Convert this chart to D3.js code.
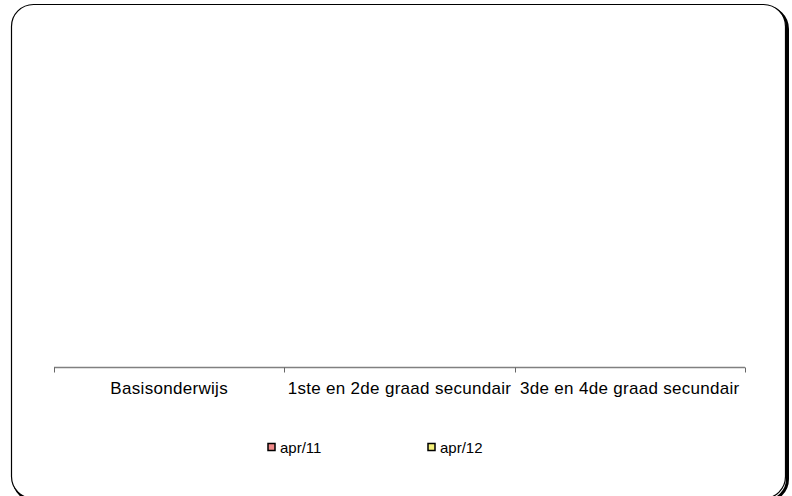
<!DOCTYPE html>
<html><head><meta charset="utf-8">
<script src="https://cdn.jsdelivr.net/npm/d3@7"></script>
<style>html,body{margin:0;padding:0;background:#fff;}svg{display:block;font-family:"Liberation Sans",Arial,sans-serif;}</style>
</head><body><div id="chart"></div>
<script>
const categories = ["Basisonderwijs", "1ste en 2de graad secundair", "3de en 4de graad secundair"];
const seriesNames = ["apr/11", "apr/12"];
const apr11 = [0, 0, 0];
const apr12 = [0, 0, 0];
const seriesColors = ["#f08a8a", "#f5f07a"];

const W = 792, H = 496;
const svg = d3.select("#chart").append("svg").attr("width", W).attr("height", H);

// frame with shadow (bottom edge falls just outside the picture)
svg.append("rect").attr("x", 14).attr("y", 7).attr("width", 773.5).attr("height", 494)
  .attr("rx", 22).attr("fill", "none").attr("stroke", "#000").attr("stroke-width", 3);
svg.append("rect").attr("x", 11.5).attr("y", 4.5).attr("width", 774).attr("height", 494)
  .attr("rx", 22).attr("fill", "#fff").attr("stroke", "#000").attr("stroke-width", 1.2);

const x0 = d3.scaleBand().domain(categories).range([54, 745]).padding(0);
const x1 = d3.scaleBand().domain(seriesNames).range([0, x0.bandwidth()]).padding(0.2);
const y = d3.scaleLinear().domain([0, 1]).range([367, 20]);

const data = categories.map((c, i) => ({cat: c, vals: [apr11[i], apr12[i]]}));
const g = svg.append("g");
g.selectAll("g.cat").data(data).join("g").attr("class", "cat")
  .attr("transform", d => `translate(${x0(d.cat)},0)`)
  .selectAll("rect").data(d => d.vals.map((v, j) => ({v, s: seriesNames[j], j})))
  .join("rect")
  .attr("x", d => x1(d.s)).attr("width", x1.bandwidth())
  .attr("y", d => y(d.v)).attr("height", d => y(0) - y(d.v))
  .attr("fill", d => seriesColors[d.j]).attr("stroke", "none");

// axis
const ag = svg.append("g").attr("transform", "translate(0,367.5)");
ag.append("line").attr("x1", 54).attr("x2", 745).attr("stroke", "#808080").attr("stroke-width", 1.5);
const tickPos = categories.map(c => x0(c)).concat([x0.range()[1]]);
ag.selectAll("line.tk").data(tickPos).join("line").attr("class", "tk")
  .attr("x1", d => Math.round(d) + 0.5).attr("x2", d => Math.round(d) + 0.5)
  .attr("y1", 0).attr("y2", 5).attr("stroke", "#666");
ag.selectAll("text.lbl").data(categories).join("text").attr("class", "lbl")
  .attr("x", d => x0(d) + x0.bandwidth() / 2).attr("y", 26.5)
  .attr("text-anchor", "middle").attr("font-size", 17).attr("letter-spacing", 0.3)
  .attr("fill", "#000").text(d => d);

// legend
const legX = [268, 428];
const lg = svg.append("g");
seriesNames.forEach((s, i) => {
  lg.append("rect").attr("x", legX[i]).attr("y", 443.5).attr("width", 7).attr("height", 7)
    .attr("fill", seriesColors[i]).attr("stroke", "#000").attr("stroke-width", 1.5);
  lg.append("text").attr("x", legX[i] + 12).attr("y", 452.5).attr("font-size", 15)
    .attr("fill", "#000").text(s);
});
</script></body></html>
